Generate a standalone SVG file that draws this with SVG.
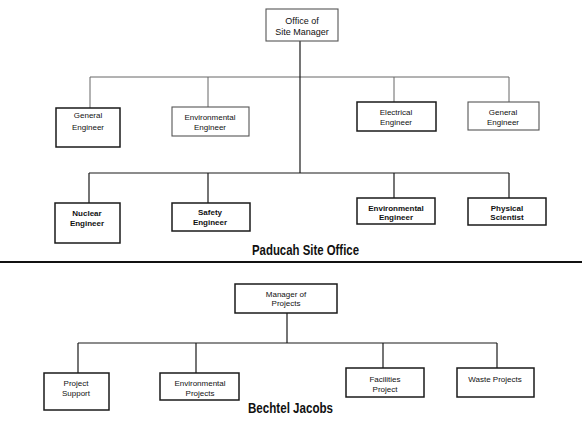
<svg xmlns="http://www.w3.org/2000/svg" width="582" height="422" viewBox="0 0 582 422">
<style>
.box{fill:#fff;stroke:#1a1a1a;stroke-width:1.5}
.lt{fill:#fff;stroke:#555;stroke-width:1.1}
.t{font-family:"Liberation Sans",Arial,sans-serif;font-size:8px;fill:#111;text-anchor:middle}
.t9{font-family:"Liberation Sans",Arial,sans-serif;font-size:9px;fill:#111;text-anchor:middle}
.title{font-family:"Liberation Sans",Arial,sans-serif;font-size:15px;font-weight:bold;fill:#111}
.c{stroke:#1a1a1a;stroke-width:1.2;fill:none}
.cl{stroke:#666;stroke-width:1;fill:none}
</style>
<rect width="582" height="422" fill="#fff"/>
<g id="connectors">
<path class="cl" d="M90 77H509M90 77V108M208 77V107M394 77V102M509 77V102"/>
<path class="c" d="M300 41V173"/>
<path class="c" d="M89 173H509M89 173V203M208 173V203M394 173V198M509 173V198"/>
<path class="c" d="M287 313V343M78 343H497M78 343V373M196 343V373M383 343V368M497 343V368"/>
<path d="M0 262H582" stroke="#111" stroke-width="2"/>
</g>
<g id="site-manager"><rect class="lt" x="266" y="9" width="72" height="32"/><text class="t9" x="302" y="24">Office of</text><text class="t9" x="302" y="35">Site Manager</text></g>
<g id="general-engineer-1"><rect class="box" x="56" y="108" width="64" height="39"/><text class="t" x="88" y="118">General</text><text class="t" x="88" y="130">Engineer</text></g>
<g id="environmental-engineer-1"><rect class="lt" x="172" y="107" width="77" height="29"/><text class="t" x="210" y="120">Environmental</text><text class="t" x="210" y="130">Engineer</text></g>
<g id="electrical-engineer"><rect class="box" x="357" y="102" width="79" height="29"/><text class="t" x="396" y="115">Electrical</text><text class="t" x="396" y="125">Engineer</text></g>
<g id="general-engineer-2"><rect class="lt" x="468" y="102" width="71" height="28"/><text class="t" x="503" y="115">General</text><text class="t" x="503" y="125">Engineer</text></g>
<g id="nuclear-engineer"><rect class="box" x="55" y="203" width="65" height="40"/><text class="t" x="87" y="216" font-weight="bold">Nuclear</text><text class="t" x="87" y="226" font-weight="bold">Engineer</text></g>
<g id="safety-engineer"><rect class="box" x="172" y="203" width="78" height="28"/><text class="t" x="210" y="215" font-weight="bold">Safety</text><text class="t" x="210" y="225" font-weight="bold">Engineer</text></g>
<g id="environmental-engineer-2"><rect class="box" x="357" y="198" width="78" height="26"/><text class="t" x="396" y="211" font-weight="bold">Environmental</text><text class="t" x="396" y="220" font-weight="bold">Engineer</text></g>
<g id="physical-scientist"><rect class="box" x="468" y="198" width="78" height="27"/><text class="t" x="507" y="211" font-weight="bold">Physical</text><text class="t" x="507" y="220" font-weight="bold">Scientist</text></g>
<text class="title" x="252" y="255" textLength="107" lengthAdjust="spacingAndGlyphs">Paducah Site Office</text>
<g id="manager-of-projects"><rect class="box" x="235" y="284" width="102" height="29"/><text class="t" x="286" y="297">Manager of</text><text class="t" x="286" y="306">Projects</text></g>
<g id="project-support"><rect class="box" x="44" y="373" width="65" height="37"/><text class="t" x="76" y="386">Project</text><text class="t" x="76" y="396">Support</text></g>
<g id="environmental-projects"><rect class="box" x="160" y="373" width="79" height="27"/><text class="t" x="200" y="386">Environmental</text><text class="t" x="200" y="396">Projects</text></g>
<g id="facilities-project"><rect class="box" x="346" y="368" width="78" height="29"/><text class="t" x="385" y="382">Facilities</text><text class="t" x="385" y="392">Project</text></g>
<g id="waste-projects"><rect class="box" x="457" y="368" width="77" height="29"/><text class="t" x="495" y="382">Waste Projects</text></g>
<text class="title" x="248" y="413" textLength="85" lengthAdjust="spacingAndGlyphs">Bechtel Jacobs</text>
</svg>
